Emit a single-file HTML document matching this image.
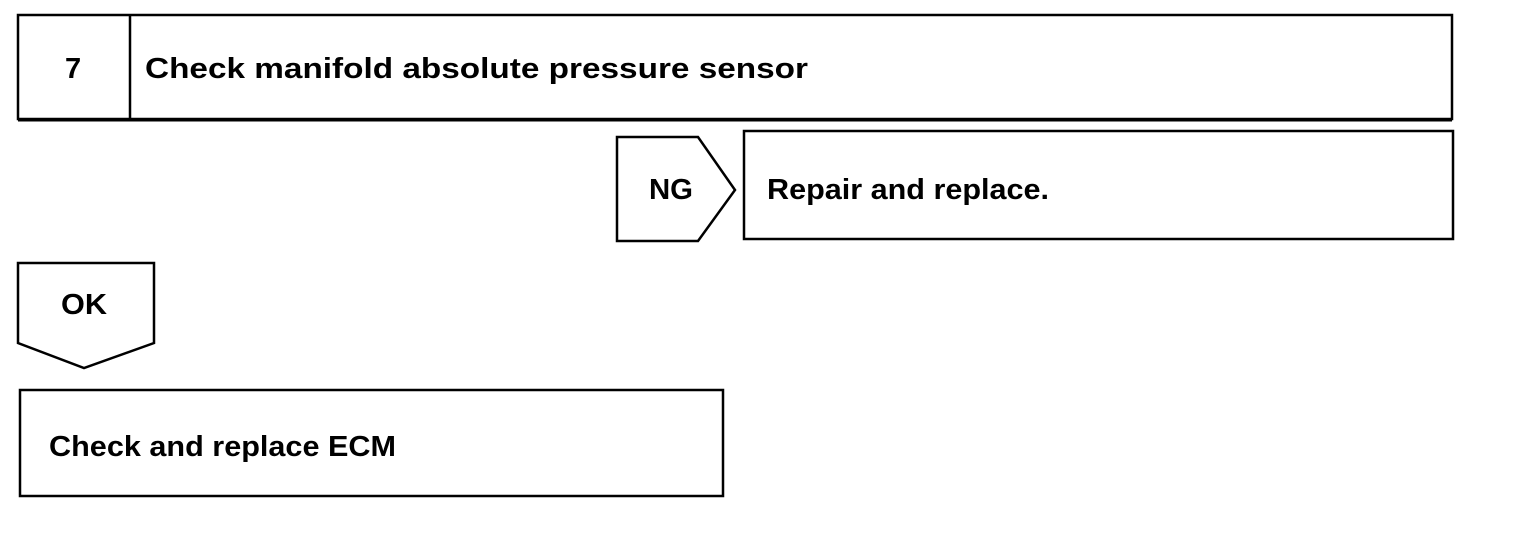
<!DOCTYPE html>
<html><head><style>html,body{margin:0;padding:0;background:#fff}svg{display:block}</style></head>
<body>
<svg width="1520" height="552" viewBox="0 0 1520 552" xmlns="http://www.w3.org/2000/svg" font-family="Liberation Sans, Arial, sans-serif" font-weight="bold" fill="none" stroke="#000" stroke-width="2.5">
<rect x="18" y="15" width="1434" height="104"/>
<line x1="18" y1="120" x2="1452" y2="120" stroke-width="3"/>
<line x1="130" y1="15" x2="130" y2="120"/>
<polygon points="617,137 698,137 735,190 698,241 617,241"/>
<rect x="744" y="131" width="709" height="108"/>
<polygon points="18,263 154,263 154,343 84,368 18,343"/>
<rect x="20" y="390" width="703" height="106"/>
<g fill="#000" stroke="none" font-size="29">
<text x="65" y="78">7</text>
<text x="145" y="78" textLength="663" lengthAdjust="spacingAndGlyphs">Check manifold absolute pressure sensor</text>
<text x="649" y="199" textLength="44" lengthAdjust="spacingAndGlyphs">NG</text>
<text x="767" y="199" textLength="282" lengthAdjust="spacingAndGlyphs">Repair and replace.</text>
<text x="61" y="314" textLength="46" lengthAdjust="spacingAndGlyphs">OK</text>
<text x="49" y="456" textLength="347" lengthAdjust="spacingAndGlyphs">Check and replace ECM</text>
</g>
</svg>
</body></html>
